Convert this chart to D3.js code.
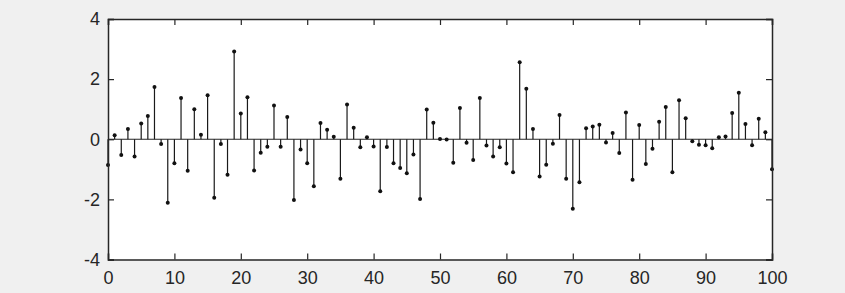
<!DOCTYPE html>
<html>
<head>
    <meta charset="UTF-8">
    <title>Stem plot</title>
    <script src="https://d3js.org/d3.v7.min.js"></script>
    <style>
        body {
            margin: 0;
            background-color: #f0f0f0;
        }
        svg {
            display: block;
        }
        .tick text {
            font-family: "Liberation Sans", Arial, sans-serif;
            font-size: 18px;
            fill: #262626;
        }
    </style>
</head>
<body>
    <div id="chart"></div>

    <script>
        // x positions 0..100
        const xValues = d3.range(0, 101);

        // values
        const yValues = [
            -0.86, 0.13, -0.52, 0.34, -0.57, 0.52, 0.77, 1.74, -0.16, -2.11,
            -0.80, 1.37, -1.05, 1.00, 0.15, 1.46, -1.95, -0.16, -1.18, 2.92,
            0.86, 1.40, -1.04, -0.45, -0.25, 1.12, -0.25, 0.74, -2.02, -0.34,
            -0.80, -1.56, 0.54, 0.32, 0.08, -1.31, 1.16, 0.38, -0.27, 0.07,
            -0.24, -1.73, -0.26, -0.80, -0.96, -1.13, -0.51, -1.99, 0.99, 0.55,
            0.01, -0.01, -0.78, 1.04, -0.12, -0.69, 1.37, -0.21, -0.57, -0.27,
            -0.81, -1.10, 2.56, 1.68, 0.34, -1.24, -0.85, -0.15, 0.81, -1.31,
            -2.31, -1.43, 0.37, 0.42, 0.48, -0.11, 0.21, -0.46, 0.89, -1.35,
            0.47, -0.82, -0.32, 0.58, 1.07, -1.10, 1.30, 0.70, -0.07, -0.18,
            -0.20, -0.30, 0.07, 0.09, 0.87, 1.55, 0.51, -0.20, 0.68, 0.23,
            -1.00
        ];

        const xTicks = [0, 10, 20, 30, 40, 50, 60, 70, 80, 90, 100];
        const yTicks = [-4, -2, 0, 2, 4];

        const data = xValues.map((x, i) => ({ x: x, y: yValues[i] }));

        const width = 845;
        const height = 293;
        const margin = { top: 19, right: 73, bottom: 33.5, left: 108 };
        const axisColor = "#262626";

        const svg = d3.select("#chart")
            .append("svg")
            .attr("width", width)
            .attr("height", height);

        const x = d3.scaleLinear()
            .domain([0, 100])
            .range([margin.left, width - margin.right]);

        const y = d3.scaleLinear()
            .domain([-4, 4])
            .range([height - margin.bottom, margin.top]);

        // white plot area
        svg.append("rect")
            .attr("x", margin.left)
            .attr("y", margin.top)
            .attr("width", width - margin.left - margin.right)
            .attr("height", height - margin.top - margin.bottom)
            .attr("fill", "white");

        // baseline at 0
        svg.append("line")
            .attr("x1", x(0))
            .attr("x2", x(100))
            .attr("y1", y(0))
            .attr("y2", y(0))
            .attr("stroke", axisColor)
            .attr("stroke-width", 1.2);

        // stems
        svg.selectAll(".stem")
            .data(data)
            .enter()
            .append("line")
            .attr("class", "stem")
            .attr("x1", d => x(d.x))
            .attr("x2", d => x(d.x))
            .attr("y1", y(0))
            .attr("y2", d => y(d.y))
            .attr("stroke", "#1a1a1a")
            .attr("stroke-width", 1.2);

        // markers
        svg.selectAll(".dot")
            .data(data)
            .enter()
            .append("circle")
            .attr("class", "dot")
            .attr("cx", d => x(d.x))
            .attr("cy", d => y(d.y))
            .attr("r", 2)
            .attr("fill", "#111");

        // axes with inward ticks, box around plot
        const tickLen = 6;

        const xAxis = svg.append("g")
            .attr("transform", `translate(0,${height - margin.bottom})`)
            .call(d3.axisBottom(x).tickValues(xTicks).tickSize(-tickLen).tickPadding(tickLen + 6));
        const yAxis = svg.append("g")
            .attr("transform", `translate(${margin.left},0)`)
            .call(d3.axisLeft(y).tickValues(yTicks).tickSize(-tickLen).tickPadding(8).tickFormat(d3.format("d")));
        const xTop = svg.append("g")
            .attr("transform", `translate(0,${margin.top})`)
            .call(d3.axisTop(x).tickValues(xTicks).tickSize(-tickLen).tickFormat(""));
        const yRight = svg.append("g")
            .attr("transform", `translate(${width - margin.right},0)`)
            .call(d3.axisRight(y).tickValues(yTicks).tickSize(-tickLen).tickFormat(""));

        [xAxis, yAxis, xTop, yRight].forEach(g => {
            g.select(".domain").attr("stroke", axisColor).attr("stroke-width", 1.5);
            g.selectAll(".tick line").attr("stroke", axisColor).attr("stroke-width", 1.2);
        });

        // use a real minus-like hyphen as in the picture
        yAxis.selectAll(".tick text").text(d => d < 0 ? "-" + Math.abs(d) : d);
    </script>
</body>
</html>
